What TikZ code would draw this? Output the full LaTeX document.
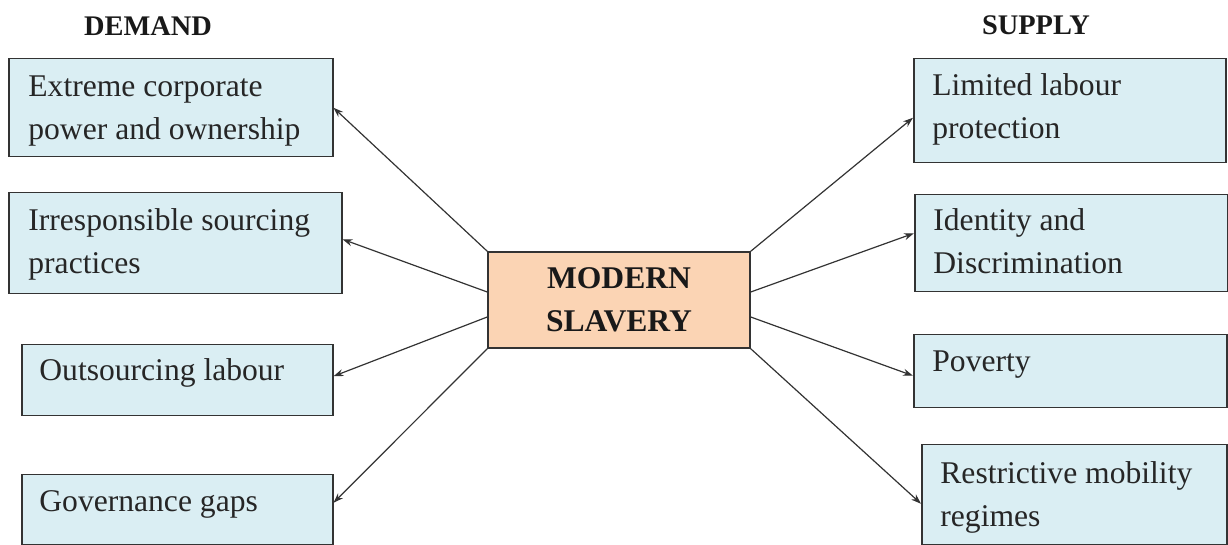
\documentclass[tikz,border=0pt]{standalone}
\usepackage{fontspec}
\setmainfont{Liberation Serif}
\usetikzlibrary{arrows.meta}
\definecolor{boxblue}{HTML}{DAEEF3}
\definecolor{boxpeach}{HTML}{FBD4B4}

\begin{document}
\begin{tikzpicture}[x=0.5pt, y=-0.5pt,
    box/.style={draw=black!80, fill=boxblue, line width=0.75pt, anchor=north west, inner sep=0pt},
    txt/.style={font=\fontsize{15.8}{21.5}\selectfont, text=black!85, align=left, inner sep=0pt, anchor=base west},
    head/.style={font=\fontsize{14.2}{17}\selectfont\bfseries, text=black!90, anchor=base},
    centre/.style={draw=black!80, fill=boxpeach, line width=0.75pt, font=\fontsize{15.8}{21.5}\selectfont\bfseries, text=black!90, align=center, minimum width=131pt, minimum height=48pt, inner sep=0pt},
    link/.style={-{Stealth[length=5pt,width=3.5pt]}, line width=0.6pt, black!80}
]
    \useasboundingbox (0,0) rectangle (1228,545);

    % Headings
    \node[head] (demand) at (148,36) {DEMAND};
    \node[head] (supply) at (1036,35) {SUPPLY};

    % Centre box
    \node[centre] (ms) at (619,300) {MODERN\\SLAVERY};

    % Demand side (text anchored on its last baseline)
    \node[box, minimum width=162pt, minimum height=49pt] (d1) at (8,58) {};
    \node[txt] (d1t) at (28,140) {Extreme corporate\\power and ownership};
    \node[box, minimum width=166.5pt, minimum height=50.5pt] (d2) at (8,192) {};
    \node[txt] (d2t) at (28,274) {Irresponsible sourcing\\practices};
    \node[box, minimum width=155.5pt, minimum height=35.5pt] (d3) at (21,344) {};
    \node[txt] (d3t) at (39,381) {Outsourcing labour};
    \node[box, minimum width=155.5pt, minimum height=35pt] (d4) at (21,474) {};
    \node[txt] (d4t) at (39,512) {Governance gaps};

    % Supply side
    \node[box, minimum width=156pt, minimum height=52pt] (s1) at (913,58) {};
    \node[txt] (s1t) at (932,139) {Limited labour\\protection};
    \node[box, minimum width=156.5pt, minimum height=48.5pt] (s2) at (914,194) {};
    \node[txt] (s2t) at (933,274) {Identity and\\Discrimination};
    \node[box, minimum width=156.5pt, minimum height=36.5pt] (s3) at (913,334) {};
    \node[txt] (s3t) at (932,372) {Poverty};
    \node[box, minimum width=152.5pt, minimum height=50pt] (s4) at (921,444) {};
    \node[txt] (s4t) at (940,527) {Restrictive mobility\\regimes};

    % Arrows
    \draw[link] (ms.north west) -- (d1.east);
    \draw[link] ([yshift=4pt]ms.west) -- ([yshift=2pt]d2.east);
    \draw[link] ([yshift=-8.5pt]ms.west) -- ([yshift=2pt]d3.east);
    \draw[link] (ms.south west) -- ([yshift=3.5pt]d4.east);
    \draw[link] (ms.north east) -- ([yshift=-3.5pt]s1.west);
    \draw[link] ([yshift=4pt]ms.east) -- ([yshift=5pt]s2.west);
    \draw[link] ([yshift=-8.5pt]ms.east) -- ([yshift=-2.25pt]s3.west);
    \draw[link] (ms.south east) -- ([yshift=-4.5pt]s4.west);
\end{tikzpicture}
\end{document}
